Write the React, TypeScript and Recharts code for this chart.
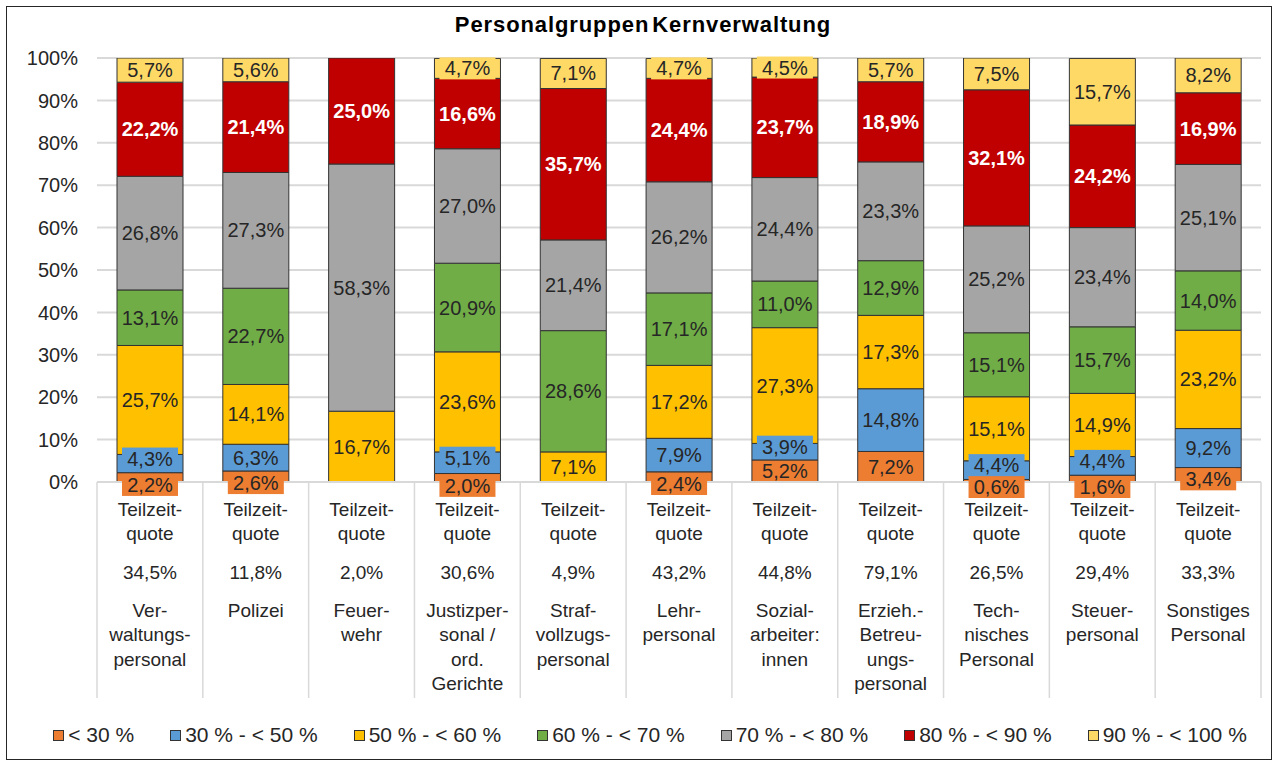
import { BarChart, Bar, XAxis, YAxis, CartesianGrid, LabelList, Legend } from 'recharts'

// Personalgruppen, Zeilen wie im Original umbrochen
const categories = [
  ['Ver-', 'waltungs-', 'personal'],
  ['Polizei'],
  ['Feuer-', 'wehr'],
  ['Justizper-', 'sonal /', 'ord.', 'Gerichte'],
  ['Straf-', 'vollzugs-', 'personal'],
  ['Lehr-', 'personal'],
  ['Sozial-', 'arbeiter:', 'innen'],
  ['Erzieh.-', 'Betreu-', 'ungs-', 'personal'],
  ['Tech-', 'nisches', 'Personal'],
  ['Steuer-', 'personal'],
  ['Sonstiges', 'Personal'],
]
const teilzeitQuote = [34.5, 11.8, 2.0, 30.6, 4.9, 43.2, 44.8, 79.1, 26.5, 29.4, 33.3]

const lt30 = [2.2, 2.6, 0, 2.0, 0, 2.4, 5.2, 7.2, 0.6, 1.6, 3.4]
const p30to50 = [4.3, 6.3, 0, 5.1, 0, 7.9, 3.9, 14.8, 4.4, 4.4, 9.2]
const p50to60 = [25.7, 14.1, 16.7, 23.6, 7.1, 17.2, 27.3, 17.3, 15.1, 14.9, 23.2]
const p60to70 = [13.1, 22.7, 0, 20.9, 28.6, 17.1, 11.0, 12.9, 15.1, 15.7, 14.0]
const p70to80 = [26.8, 27.3, 58.3, 27.0, 21.4, 26.2, 24.4, 23.3, 25.2, 23.4, 25.1]
const p80to90 = [22.2, 21.4, 25.0, 16.6, 35.7, 24.4, 23.7, 18.9, 32.1, 24.2, 16.9]
const p90to100 = [5.7, 5.6, 0, 4.7, 7.1, 4.7, 4.5, 5.7, 7.5, 15.7, 8.2]

const series = [lt30, p30to50, p50to60, p60to70, p70to80, p80to90, p90to100]
const seriesNames = ['< 30 %', '30 % - < 50 %', '50 % - < 60 %', '60 % - < 70 %', '70 % - < 80 %', '80 % - < 90 %', '90 % - < 100 %']
const colors = ['#ED7D31', '#5B9BD5', '#FFC000', '#70AD47', '#A5A5A5', '#C00000', '#FFD966']
const yTicks = [0, 10, 20, 30, 40, 50, 60, 70, 80, 90, 100]

const data = categories.map((_, i) => {
  const row: Record<string, number> = { idx: i }
  series.forEach((s, k) => (row[`s${k}`] = s[i]))
  return row
})

const W = 1274
const H = 762
const FONT = '"Liberation Sans", Arial, sans-serif'
const PLOT_LEFT = 97
const PLOT_RIGHT = 1261
const PLOT_TOP = 58
const PLOT_BOTTOM = 482
const LEGEND_H = 60
const BAND = (PLOT_RIGHT - PLOT_LEFT) / categories.length

const fmt = (v: number) => v.toFixed(1).replace('.', ',') + '%'

function CategoryTick(props: any) {
  const { x, payload } = props
  const i = payload.value as number
  const y = PLOT_BOTTOM
  const lines = ['Teilzeit-', 'quote']
  const offsets = [27, 51]
  return (
    <g>
      <line x1={x - BAND / 2} x2={x - BAND / 2} y1={y} y2={y + 216} stroke="#d9d9d9" strokeWidth={1.5} />
      {i === categories.length - 1 && (
        <line x1={x + BAND / 2} x2={x + BAND / 2} y1={y} y2={y + 216} stroke="#d9d9d9" strokeWidth={1.5} />
      )}
      {lines.map((l, k) => (
        <text key={l} x={x} y={y + offsets[k]} textAnchor="middle" dominantBaseline="central" fontSize={19} fill="#262626" fontFamily={FONT}>
          {l}
        </text>
      ))}
      <text x={x} y={y + 90} textAnchor="middle" dominantBaseline="central" fontSize={19} fill="#262626" fontFamily={FONT}>
        {fmt(teilzeitQuote[i])}
      </text>
      {categories[i].map((l, k) => (
        <text key={k} x={x} y={y + 128 + k * 24.5} textAnchor="middle" dominantBaseline="central" fontSize={19} fill="#262626" fontFamily={FONT}>
          {l}
        </text>
      ))}
    </g>
  )
}

function makeLabel(k: number) {
  return (props: any) => {
    const { x, y, width, height, value } = props
    if (!value) return null
    const cx = x + width / 2
    let cy = y + height / 2
    const small = height < 22
    if (small && k === 0) cy = Math.min(cy + (22 - height) * 0.6, y + height + 5)
    if (small && k === 1) cy -= 5
    const bold = k === 5
    return (
      <g>
        {small && <rect x={cx - 28} y={cy - 11} width={56} height={22} fill={colors[k]} />}
        <text
          x={cx}
          y={cy}
          textAnchor="middle"
          dominantBaseline="central"
          fontSize={20}
          fontWeight={bold ? 'bold' : 'normal'}
          fill={bold ? '#ffffff' : '#262626'}
          fontFamily={FONT}
        >
          {fmt(value)}
        </text>
      </g>
    )
  }
}

function LegendContent() {
  return (
    <div
      style={{
        height: LEGEND_H,
        display: 'flex',
        alignItems: 'center',
        justifyContent: 'center',
        gap: 36,
        fontFamily: FONT,
        fontSize: 21,
        color: '#262626',
        paddingLeft: 26,
        paddingTop: 6,
        boxSizing: 'border-box',
      }}
    >
      {seriesNames.map((n, i) => (
        <span key={n} style={{ display: 'flex', alignItems: 'center', whiteSpace: 'pre' }}>
          <span style={{ width: 9, height: 9, background: colors[i], border: '1px solid #333', marginRight: 4 }} />
          {n}
        </span>
      ))}
    </div>
  )
}

export default function App() {
  return (
    <div style={{ position: 'absolute', left: 0, top: 0, width: W, height: H, background: '#fff' }}>
      <div
        style={{
          position: 'absolute',
          top: 12,
          left: 0,
          width: W,
          textAlign: 'center',
          fontFamily: FONT,
          fontWeight: 'bold',
          fontSize: 22,
          letterSpacing: 0.9,
          wordSpacing: -4,
          color: '#000',
          paddingLeft: 12,
          boxSizing: 'border-box',
        }}
      >
        Personalgruppen Kernverwaltung
      </div>
      <BarChart
        width={W}
        height={H}
        data={data}
        margin={{ top: PLOT_TOP, right: W - PLOT_RIGHT, left: 0, bottom: 0 }}
      >
        <CartesianGrid horizontal vertical={false} stroke="#d9d9d9" strokeWidth={2} />
        <XAxis
          dataKey="idx"
          type="category"
          height={H - PLOT_BOTTOM - LEGEND_H}
          axisLine={{ stroke: '#d9d9d9', strokeWidth: 2 }}
          tickLine={false}
          tickSize={0}
          tick={<CategoryTick />}
          interval={0}
        />
        <YAxis
          width={PLOT_LEFT}
          domain={[0, 100]}
          ticks={yTicks}
          allowDataOverflow
          tickFormatter={(v: number) => `${v}%`}
          axisLine={false}
          tickLine={false}
          tickMargin={13}
          tick={{ fontSize: 20, fill: '#262626', fontFamily: FONT }}
        />
        <Legend verticalAlign="bottom" content={<LegendContent />} wrapperStyle={{ left: 0, width: W, height: LEGEND_H }} />
        {series.map((_, k) => (
          <Bar
            key={k}
            dataKey={`s${k}`}
            stackId="a"
            name={seriesNames[k]}
            fill={colors[k]}
            stroke="#333"
            strokeWidth={1}
            barSize={66}
            isAnimationActive={false}
          >
            <LabelList dataKey={`s${k}`} content={makeLabel(k)} />
          </Bar>
        ))}
      </BarChart>
      <div
        style={{
          position: 'absolute',
          left: 6,
          top: 6,
          width: W - 8,
          height: H - 8,
          border: '1.5px solid #262626',
          boxSizing: 'border-box',
          pointerEvents: 'none',
        }}
      />
    </div>
  )
}
